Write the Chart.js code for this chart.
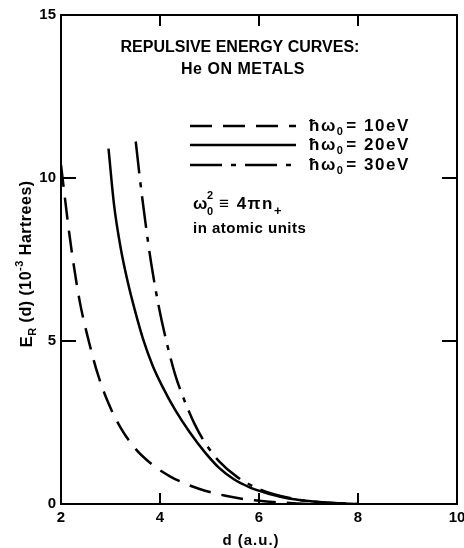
<!DOCTYPE html>
<html>
<head>
<meta charset="utf-8">
<script src="https://cdn.jsdelivr.net/npm/chart.js@4"></script>
<style>
  html, body { margin: 0; padding: 0; background: #fff; }
  #wrap { width: 464px; height: 548px; }
</style>
</head>
<body>
<div id="wrap"><canvas id="energyChart" width="464" height="548"></canvas></div>
<script>
// values (d in a.u., E in 10^-3 Hartrees)
const d10 = [2.0, 2.07, 2.15, 2.25, 2.38, 2.56, 2.75, 2.97, 3.2, 3.5, 3.85, 4.2, 4.5, 4.8, 5.3, 5.8, 6.3, 7.0];
const e10 = [10.4, 9.5, 8.5, 7.4, 6.2, 5.0, 3.95, 3.05, 2.35, 1.7, 1.2, 0.85, 0.63, 0.46, 0.26, 0.13, 0.06, 0.0];

const d20 = [2.96, 3.07, 3.2, 3.35, 3.5, 3.66, 3.85, 4.05, 4.3, 4.6, 4.9, 5.2, 5.5, 5.8, 6.1, 6.5, 7.0, 7.5, 8.0];
const e20 = [10.9, 9.2, 7.9, 6.8, 5.9, 5.05, 4.25, 3.6, 2.9, 2.2, 1.6, 1.1, 0.75, 0.52, 0.36, 0.2, 0.09, 0.03, 0.0];

const d30 = [3.51, 3.6, 3.7, 3.82, 3.97, 4.12, 4.3, 4.5, 4.7, 4.9, 5.2, 5.55, 5.97, 6.3, 6.7, 7.0, 7.5, 8.0];
const e30 = [11.12, 9.9, 8.7, 7.4, 6.1, 5.05, 4.0, 3.15, 2.45, 1.9, 1.3, 0.84, 0.48, 0.3, 0.16, 0.09, 0.03, 0.0];

const xTicks = [2, 4, 6, 8, 10];
const yTicks = [0, 5, 10, 15];
const seriesLabels = ['10eV', '20eV', '30eV'];

const pts = (xs, ys) => xs.map((x, i) => ({x: x, y: ys[i]}));
const FONT = '"Liberation Sans", Arial, sans-serif';

// frame, inward ticks, annotations, axis titles
const paperPlugin = {
    id: 'paper',
    afterDraw(chart) {
        const ctx = chart.ctx;
        const a = chart.chartArea;
        const xs = chart.scales.x, ys = chart.scales.y;
        ctx.save();
        ctx.strokeStyle = '#000';
        ctx.fillStyle = '#000';
        ctx.lineWidth = 2;
        ctx.strokeRect(a.left, a.top, a.right - a.left, a.bottom - a.top);

        // inward ticks
        ctx.beginPath();
        [4, 6, 8].forEach(v => {
            const px = xs.getPixelForValue(v);
            ctx.moveTo(px, a.bottom); ctx.lineTo(px, a.bottom - 11);
            ctx.moveTo(px, a.top); ctx.lineTo(px, a.top + 11);
        });
        [5, 10].forEach(v => {
            const py = ys.getPixelForValue(v);
            ctx.moveTo(a.left, py); ctx.lineTo(a.left + 15, py);
            ctx.moveTo(a.right, py); ctx.lineTo(a.right - 15, py);
        });
        ctx.stroke();

        // title text
        ctx.textAlign = 'center';
        ctx.textBaseline = 'middle';
        ctx.font = 'bold 16px ' + FONT;
        ctx.letterSpacing = '0px';
        ctx.fillText('REPULSIVE ENERGY CURVES:', 240, 48);
        ctx.letterSpacing = '0.5px';
        ctx.fillText('He ON METALS', 243, 70);

        // legend
        const rows = [126, 145, 165];
        chart.data.datasets.forEach((ds, i) => {
            ctx.save();
            ctx.lineWidth = 2.5;
            ctx.setLineDash(ds.borderDash || []);
            ctx.beginPath();
            ctx.moveTo(190, rows[i]); ctx.lineTo(296, rows[i]);
            ctx.stroke();
            ctx.restore();
            ctx.textAlign = 'left';
            ctx.letterSpacing = '1.5px';
            ctx.font = 'bold 17px ' + FONT;
            let x = 309;
            ctx.fillText('\u0127\u03c9', x, rows[i]);
            x += ctx.measureText('\u0127\u03c9').width;
            ctx.font = 'bold 11px ' + FONT;
            ctx.fillText('0', x, rows[i] + 6);
            x += ctx.measureText('0').width + 2;
            ctx.font = 'bold 17px ' + FONT;
            ctx.fillText('= ' + seriesLabels[i], x, rows[i]);
        });

        // formula note
        ctx.textAlign = 'left';
        ctx.letterSpacing = '1.5px';
        ctx.font = 'bold 17px ' + FONT;
        ctx.fillText('\u03c9', 193, 204);
        ctx.font = 'bold 11px ' + FONT;
        ctx.fillText('2', 207, 196);
        ctx.fillText('0', 207, 212);
        ctx.font = 'bold 17px ' + FONT;
        ctx.fillText('\u2261 4\u03c0n', 219, 204);
        const wN = ctx.measureText('\u2261 4\u03c0n').width;
        ctx.font = 'bold 13px ' + FONT;
        ctx.fillText('+', 219 + wN, 211);
        ctx.letterSpacing = '0.5px';
        ctx.font = 'bold 15px ' + FONT;
        ctx.fillText('in atomic units', 193, 229);

        // x title
        ctx.textAlign = 'center';
        ctx.letterSpacing = '1px';
        ctx.font = 'bold 15px ' + FONT;
        ctx.fillText('d (a.u.)', 251, 541);

        // y title (rotated)
        ctx.translate(27, 264);
        ctx.rotate(-Math.PI / 2);
        ctx.letterSpacing = '0.5px';
        const parts = [
            ['E', 17, 0], ['R', 11, 6], [' (d) (10', 16, 0], ['-3', 11, -7], [' Hartrees)', 16, 0]
        ];
        let total = 0;
        parts.forEach(p => { ctx.font = 'bold ' + p[1] + 'px ' + FONT; total += ctx.measureText(p[0]).width; });
        let cx = -total / 2;
        ctx.textAlign = 'left';
        parts.forEach(p => {
            ctx.font = 'bold ' + p[1] + 'px ' + FONT;
            ctx.fillText(p[0], cx, p[2]);
            cx += ctx.measureText(p[0]).width;
        });
        ctx.restore();
    }
};

const lineStyle = {
    borderColor: '#000',
    borderWidth: 2.5,
    pointRadius: 0,
    fill: false,
    cubicInterpolationMode: 'monotone'
};

new Chart(document.getElementById('energyChart'), {
    type: 'line',
    data: {
        datasets: [
            Object.assign({label: seriesLabels[0], data: pts(d10, e10), borderDash: [22, 11]}, lineStyle),
            Object.assign({label: seriesLabels[1], data: pts(d20, e20)}, lineStyle),
            Object.assign({label: seriesLabels[2], data: pts(d30, e30), borderDash: [32, 9, 5, 9]}, lineStyle)
        ]
    },
    options: {
        responsive: false,
        animation: false,
        layout: { padding: { top: 15, right: 7, left: 0, bottom: 0 } },
        plugins: { legend: { display: false }, tooltip: { enabled: false } },
        scales: {
            x: {
                type: 'linear', min: 2, max: 10,
                grid: { display: false, drawTicks: false, tickLength: 0 },
                border: { display: false },
                afterBuildTicks: s => { s.ticks = xTicks.map(v => ({value: v})); },
                afterFit: s => { s.height = 44; s.paddingLeft = 0; s.paddingRight = 0; },
                ticks: { color: '#000', padding: 5, maxRotation: 0, font: { family: FONT, size: 15, weight: 'bold' } }
            },
            y: {
                min: 0, max: 15,
                grid: { display: false, drawTicks: false, tickLength: 0 },
                border: { display: false },
                afterBuildTicks: s => { s.ticks = yTicks.map(v => ({value: v})); },
                afterFit: s => { s.width = 61; s.paddingTop = 0; s.paddingBottom = 0; },
                ticks: { color: '#000', padding: 5, font: { family: FONT, size: 15, weight: 'bold' } }
            }
        }
    },
    plugins: [paperPlugin]
});
</script>
</body>
</html>
